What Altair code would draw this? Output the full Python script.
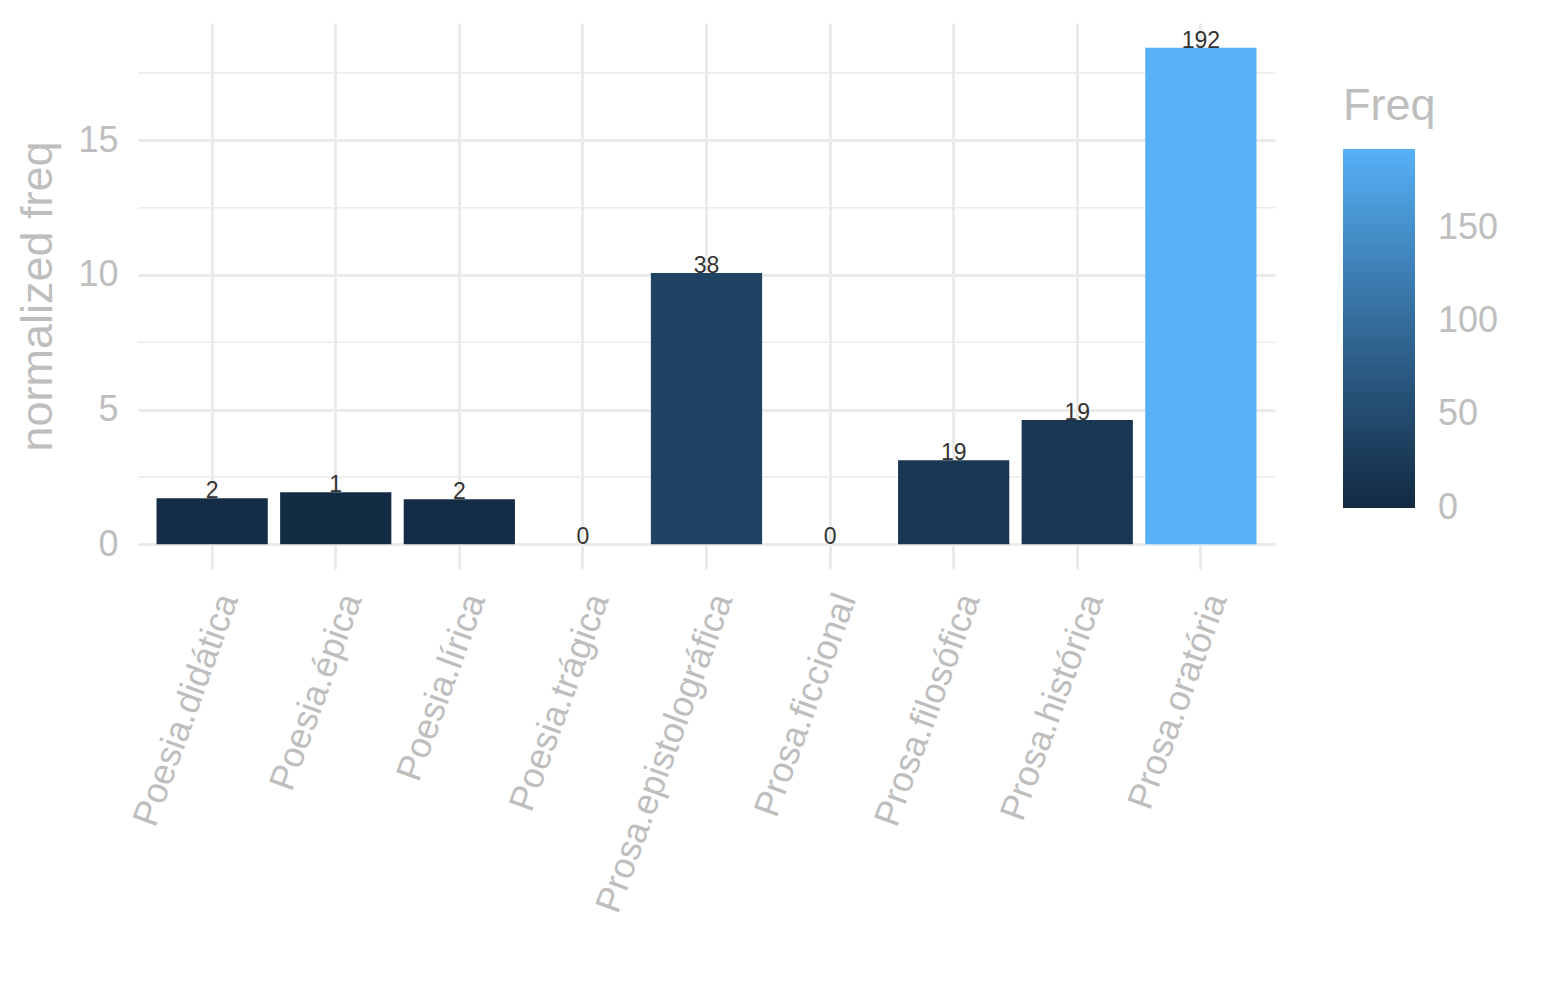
import altair as alt
import pandas as pd

categories = ["Poesia.didática", "Poesia.épica", "Poesia.lírica", "Poesia.trágica",
              "Prosa.epistolográfica", "Prosa.ficcional", "Prosa.filosófica",
              "Prosa.histórica", "Prosa.oratória"]
norm_freq = [1.71, 1.93, 1.67, 0.0, 10.07, 0.0, 3.12, 4.61, 18.44]
freq = [2, 1, 2, 0, 38, 0, 19, 19, 192]
y_major = [0, 5, 10, 15]
y_minor = [2.5, 7.5, 12.5, 17.5]
legend_values = [0, 50, 100, 150]

df = pd.DataFrame({"cat": categories, "norm": norm_freq, "Freq": freq})
minor_df = pd.DataFrame({"norm": y_minor})

FONT = "Liberation Sans"
GREY = "#BEBEBE"
GRID = "#EBEBEB"

ydom = [-0.922, 19.36]

xaxis = alt.Axis(title=None, grid=True, gridColor=GRID, gridWidth=3,
                 bandPosition=0.5, ticks=False, domain=False,
                 labelAngle=-70, labelAlign="right", labelBaseline="top",
                 labelPadding=20, labelFontSize=36, labelColor=GREY,
                 labelFont=FONT, labelLimit=0)
xscale = alt.Scale(paddingInner=0.1, paddingOuter=0.15)

yaxis = alt.Axis(values=y_major, title="normalized freq", grid=True,
                 gridColor=GRID, gridWidth=3, ticks=False, domain=False,
                 labelFontSize=36, labelColor=GREY, labelFont=FONT,
                 labelPadding=20, titleFontSize=45, titleColor=GREY,
                 titleFont=FONT, titleFontWeight="normal", titlePadding=17)
yscale = alt.Scale(domain=ydom, nice=False, zero=False)

minor = alt.Chart(minor_df).mark_rule(color=GRID, strokeWidth=1.5).encode(
    y=alt.Y("norm:Q", scale=yscale, axis=yaxis, title="normalized freq")
)

bars = alt.Chart(df).mark_bar().encode(
    x=alt.X("cat:N", sort=categories, scale=xscale, axis=xaxis),
    y=alt.Y("norm:Q", scale=yscale, axis=yaxis, title="normalized freq"),
    y2=alt.datum(0),
    color=alt.Color("Freq:Q",
                    scale=alt.Scale(domain=[-0.01, 192], range=["#132B43", "#56B1F7"],
                                    interpolate="lab"),
                    legend=alt.Legend(title="Freq", orient="none", legendX=1205,
                                      legendY=61, gradientLength=359,
                                      gradientThickness=72, values=legend_values,
                                      titleFontSize=45, titleColor=GREY,
                                      titleFont=FONT, titleFontWeight="normal",
                                      titlePadding=20, labelFontSize=36,
                                      labelColor=GREY, labelFont=FONT,
                                      labelOffset=23, labelBaseline="middle",
                                      gradientStrokeWidth=0, direction="vertical")),
)

labels = alt.Chart(df).mark_text(baseline="alphabetic", fontSize=23, color="#333333",
                                 font=FONT).encode(
    x=alt.X("cat:N", sort=categories, scale=xscale, axis=xaxis),
    y=alt.Y("norm:Q", scale=yscale, axis=yaxis, title="normalized freq"),
    text=alt.Text("Freq:Q"),
)

chart = alt.layer(minor, bars, labels).properties(
    width=1137, height=546,
    padding={"left": 7, "top": 15, "right": 5, "bottom": 5},
).configure(background="white").configure_view(stroke=None)

chart.save("out.html", embed_options={"renderer": "svg", "actions": False})
